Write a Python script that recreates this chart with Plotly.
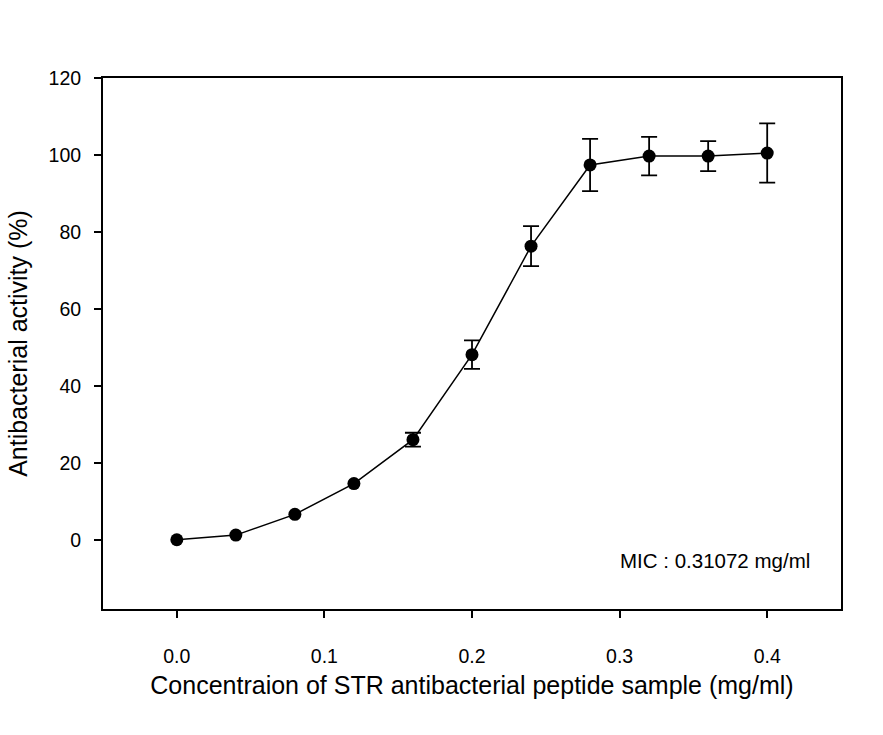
import plotly.graph_objects as go

concentration = [0.0, 0.04, 0.08, 0.12, 0.16, 0.20, 0.24, 0.28, 0.32, 0.36, 0.40]
activity = [0.0, 1.2, 6.6, 14.6, 26.0, 48.1, 76.3, 97.4, 99.7, 99.7, 100.5]
# no visible error bars at the four lowest concentrations
error = [None, None, None, None, 1.8, 3.7, 5.2, 6.8, 5.0, 3.9, 7.7]

x_ticks = [0.0, 0.1, 0.2, 0.3, 0.4]
x_tick_labels = ["0.0", "0.1", "0.2", "0.3", "0.4"]
y_ticks = [0, 20, 40, 60, 80, 100, 120]

FONT = "Liberation Sans, Arial, sans-serif"

idx = [i for i, e in enumerate(error) if e is not None]

fig = go.Figure()
# error bars only where they exist
fig.add_trace(go.Scatter(
    x=[concentration[i] for i in idx],
    y=[activity[i] for i in idx],
    mode="markers",
    marker=dict(color="black", size=1, opacity=0),
    error_y=dict(type="data", array=[error[i] for i in idx], visible=True,
                 color="black", thickness=1.8, width=8),
    showlegend=False, hoverinfo="skip",
))
fig.add_trace(go.Scatter(
    x=concentration, y=activity,
    mode="lines+markers",
    line=dict(color="black", width=1.5),
    marker=dict(color="black", size=13),
    showlegend=False,
))

fig.add_annotation(
    x=0.4305, y=-5.5, xref="x", yref="y",
    text="MIC : 0.31072 mg/ml", showarrow=False,
    xanchor="right", yanchor="middle",
    font=dict(family=FONT, size=20.5, color="black"),
)

fig.update_layout(
    width=883, height=735,
    margin=dict(l=103, r=42, t=78, b=126),
    paper_bgcolor="white", plot_bgcolor="white",
    font=dict(family=FONT, color="black"),
)
fig.update_xaxes(
    range=[-0.05, 0.45],
    tickvals=x_ticks, ticktext=x_tick_labels,
    ticks="outside", ticklen=7, tickwidth=1.5, tickcolor="black",
    ticklabelstandoff=22,
    showline=True, linecolor="black", linewidth=2, mirror=True,
    showgrid=False, zeroline=False,
    tickfont=dict(size=19.5, family=FONT),
    title=dict(text="Concentraion of STR antibacterial peptide sample (mg/ml)",
               font=dict(size=25, family=FONT), standoff=10),
)
fig.update_yaxes(
    range=[-18, 120],
    tickvals=y_ticks,
    ticks="outside", ticklen=7, tickwidth=1.5, tickcolor="black",
    ticklabelstandoff=9,
    showline=True, linecolor="black", linewidth=2, mirror=True,
    showgrid=False, zeroline=False,
    tickfont=dict(size=19.5, family=FONT),
    title=dict(text="Antibacterial activity (%)",
               font=dict(size=25, family=FONT), standoff=14),
)

fig.write_html("out.html", config={"displayModeBar": False},
               post_script="document.body.style.margin='0';")
